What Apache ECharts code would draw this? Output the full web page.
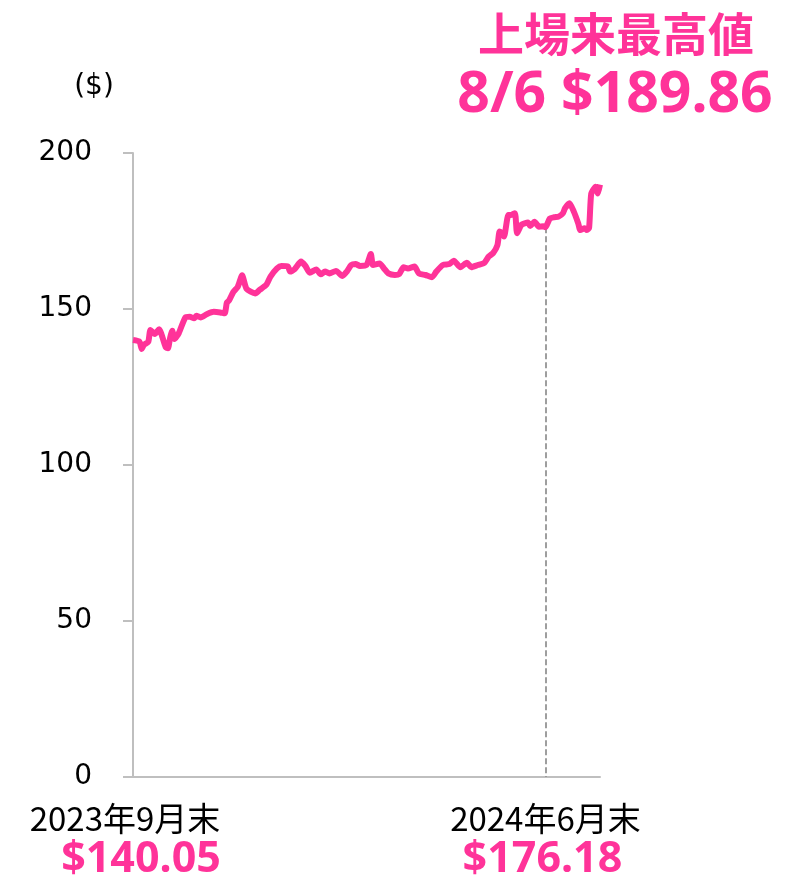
<!DOCTYPE html>
<html>
<head>
<meta charset="utf-8">
<script src="https://cdn.jsdelivr.net/npm/echarts@6/dist/echarts.min.js"></script>
<style>
  html, body { margin: 0; padding: 0; background: #fff; }
  #chart { width: 796px; height: 877px; }
</style>
</head>
<body>
<div id="chart"></div>
<script>
// 営業日インデックス (2023年9月末 = 0)
var days = [0,3,4,5,7,8,10,12,13,15,16,17,18,19,21,24,26,28,29,31,34,37,40,42,43,44,46,48,50,52,56,58,61,63,66,68,71,72,74,77,79,81,84,86,88,90,93,96,98,100,102,104,107,109,110,113,115,117,120,122,124,126,129,131,134,137,139,142,145,147,150,153,155,158,161,163,165,167,168,169,170,172,173,175,176,178,181,182,184,186,188,189,191,193,195,197,198,200,202,204,205,207,208,209,210,212,213,214];
// 株価 ($)
var prices = [140.05,139.5,137.2,138.5,139.5,143.3,142.0,143.5,142.0,137.7,137.4,140.7,143.0,140.4,142.3,147.3,147.5,147.0,147.8,147.3,148.4,149.1,148.9,148.6,152.0,152.7,155.5,157.1,160.8,156.5,155.0,156.1,157.7,160.4,163.0,163.8,163.6,162.0,162.7,165.2,163.8,161.6,162.7,161.1,162.0,161.4,162.2,160.6,162.0,164.1,164.4,163.8,164.1,167.6,164.1,164.6,163.0,161.4,160.9,161.2,163.4,163.0,163.6,161.4,160.9,160.2,162.0,164.1,164.4,165.5,163.4,164.8,163.4,164.1,164.8,166.8,167.9,170.5,174.8,174.3,173.2,180.1,180.1,180.7,174.3,177.0,177.7,176.6,178.0,176.4,176.5,176.18,179.0,179.4,179.6,180.7,182.3,183.9,181.2,177.5,175.3,175.9,175.3,176.0,187.0,189.2,187.0,189.86];

// x軸ラベル
var labelDays = [0, 189];
var labelNames = ['2023年9月末', '2024年6月末'];
var labelPrices = ['$140.05', '$176.18'];
var markDay = 189;
var markPrice = 176.18;

var yTicks = [0, 50, 100, 150, 200];
var titleText = '上場来最高値';
var subText = '8/6 $189.86';

var pink = '#FF3399';
var axisGrey = '#BFBFBF';

var lineData = [];
days.forEach(function (d, i) {
  lineData.push([d, prices[i]]);
});

var chart = echarts.init(document.getElementById('chart'));
var option = {
  animation: false,
  title: [{
    text: titleText,
    left: 611,
    top: 6,
    textAlign: 'center',
    textStyle: {
      color: pink,
      fontSize: 46,
      fontWeight: 'bold',
      fontFamily: 'Noto Sans CJK JP'
    }
  }, {
    text: subText,
    left: 610,
    top: 62,
    textAlign: 'center',
    textStyle: {
      color: pink,
      fontSize: 57,
      fontWeight: 'bold',
      fontFamily: 'Noto Sans, Noto Sans CJK JP'
    }
  }],
  grid: {
    left: 133,
    right: 196,
    top: 153,
    bottom: 100,
    containLabel: false,
    outerBoundsMode: 'none'
  },
  xAxis: {
    type: 'value',
    min: 0,
    max: 214,
    axisLine: { show: true, lineStyle: { color: axisGrey, width: 2 } },
    axisTick: { show: false },
    splitLine: { show: false },
    axisLabel: {
      customValues: labelDays,
      margin: 21,
      formatter: function (v) {
        var idx = labelDays.indexOf(v);
        if (idx < 0) return '';
        var s = idx === 0 ? '0' : '1';
        return '{a' + s + '|' + labelNames[idx] + '}\n{b' + s + '|' + labelPrices[idx] + '}';
      },
      rich: {
        a0: { fontSize: 33, lineHeight: 40, color: '#000', fontFamily: 'Noto Sans CJK JP', padding: [0, 16, 0, 0] },
        b0: { fontSize: 43, lineHeight: 44, color: pink, fontWeight: 'bold', fontFamily: 'Noto Sans, Noto Sans CJK JP', padding: [0, 0, 0, 16] },
        a1: { fontSize: 33, lineHeight: 40, color: '#000', fontFamily: 'Noto Sans CJK JP' },
        b1: { fontSize: 43, lineHeight: 44, color: pink, fontWeight: 'bold', fontFamily: 'Noto Sans, Noto Sans CJK JP', padding: [0, 6, 0, 0] }
      }
    }
  },
  yAxis: {
    type: 'value',
    min: yTicks[0],
    max: yTicks[yTicks.length - 1],
    interval: 50,
    name: '($)',
    nameLocation: 'end',
    nameGap: 52,
    nameTextStyle: {
      color: '#000',
      fontSize: 28,
      fontFamily: 'DejaVu Sans',
      padding: [0, 78, 0, 0]
    },
    axisLine: { show: true, lineStyle: { color: axisGrey, width: 2 } },
    axisTick: { show: true, length: 10, lineStyle: { color: axisGrey, width: 2 } },
    splitLine: { show: false },
    axisLabel: {
      color: '#000',
      fontSize: 28,
      fontFamily: 'DejaVu Sans',
      margin: 41
    }
  },
  series: [{
    type: 'line',
    data: lineData,
    showSymbol: false,
    smooth: 0.2,
    lineStyle: { color: pink, width: 6 },
    z: 3,
    markLine: {
      silent: true,
      symbol: 'none',
      label: { show: false },
      lineStyle: { color: '#7F7F7F', type: 'dashed', width: 1.5 },
      z: 2,
      data: [[{ coord: [markDay, markPrice] }, { coord: [markDay, 0] }]]
    }
  }]
};
chart.setOption(option);
</script>
</body>
</html>
